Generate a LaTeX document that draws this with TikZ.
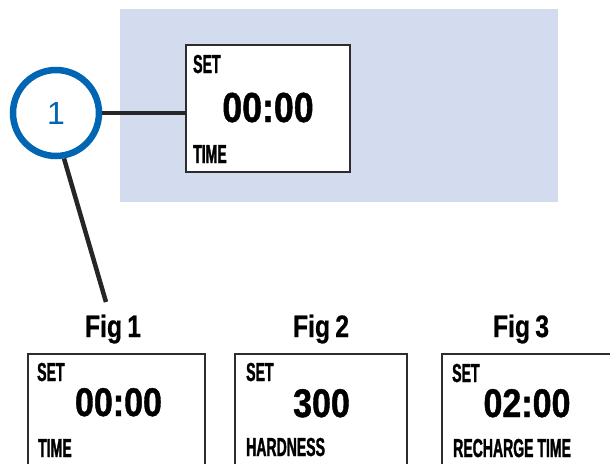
\documentclass[tikz,border=0pt]{standalone}
\usepackage{fontspec}
\newfontfamily\lblfont{Liberation Sans}[FakeStretch=0.54,FakeBold=1.2]
\newfontfamily\digfont{Liberation Sans}[FakeStretch=0.85,FakeBold=1]
\newfontfamily\figfont{Liberation Sans}[FakeStretch=0.8,FakeBold=0.6]
\newfontfamily\numfont{Liberation Sans}
\definecolor{panelblue}{RGB}{211,220,238}
\definecolor{ringblue}{RGB}{0,102,179}
\definecolor{boxline}{RGB}{45,45,45}
\tikzset{
  lcd/.style={draw=boxline, line width=1.6pt, fill=white},
  lbl/.style={inner sep=0pt, anchor=base west, font=\lblfont\bfseries\fontsize{26}{26}\selectfont},
  bigdig/.style={inner sep=0pt, anchor=base, font=\digfont\bfseries\fontsize{42}{42}\selectfont},
  dig/.style={inner sep=0pt, anchor=base, font=\digfont\bfseries\fontsize{40}{40}\selectfont},
  figlbl/.style={inner sep=0pt, anchor=base, font=\figfont\bfseries\fontsize{31}{31}\selectfont},
  ring/.style={circle, draw=ringblue, line width=6.5pt, fill=white, minimum size=86pt, inner sep=0pt,
     text=ringblue, font=\numfont\fontsize{32}{32}\selectfont},
  conn/.style={draw=black!85, line width=4.5pt}
}
\begin{document}
\begin{tikzpicture}[x=1pt,y=-1pt]
\useasboundingbox (0,0) rectangle (610,463);
% panel
\fill[panelblue] (120,9) rectangle (558,202);
% top display
\draw[lcd] (186,45) rectangle (350,172);
\node[inner sep=0pt, minimum width=164pt, minimum height=127pt] (topbox) at (268,108.5) {};
\node[lbl] (tset) at (193,73) {SET};
\node[bigdig] (tdig) at (268,122) {00:00};
\node[lbl] (ttime) at (193,163) {TIME};
% callout
\node[ring] (c1) at (56,113) {1};
\coordinate (lineend) at (106,302);
\draw[conn] (c1.east) -- (c1.east -| topbox.west);
\draw[conn] (c1.-80) -- (lineend);
% figure labels
\node[figlbl] (f1) at (113,337) {Fig\,1};
\node[figlbl] (f2) at (321,337) {Fig\,2};
\node[figlbl] (f3) at (521,337) {Fig\,3};
% bottom displays
\draw[lcd] (28,354) rectangle (205,475);
\draw[lcd] (235,354) rectangle (407,475);
\draw[lcd] (442,354) rectangle (616,475);
\node[lbl] (s1) at (37,381) {SET};
\node[lbl] (s2) at (246,381) {SET};
\node[lbl] (s3) at (452,382) {SET};
\node[dig] (d1) at (118.5,416) {00:00};
\node[dig] (d2) at (321.5,417) {300};
\node[dig] (d3) at (527,417) {02:00};
\node[lbl] (b1) at (38,457) {TIME};
\node[lbl] (b2) at (246,456) {HARDNESS};
\node[lbl] (b3) at (453,457) {RECHARGE TIME};
\end{tikzpicture}
\end{document}
